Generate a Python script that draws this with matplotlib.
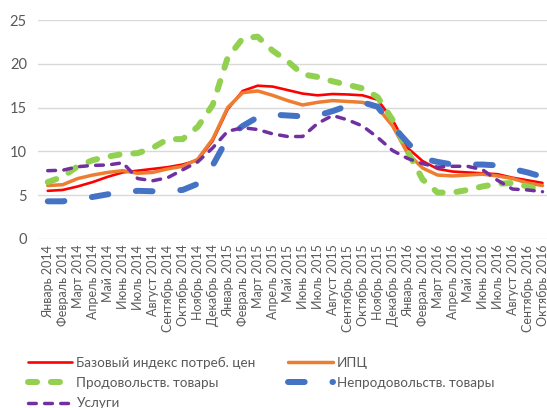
import matplotlib
matplotlib.use("Agg")
import matplotlib.pyplot as plt

months = ["Январь 2014", "Февраль 2014", "Март 2014", "Апрель 2014", "Май 2014", "Июнь 2014",
          "Июль 2014", "Август 2014", "Сентябрь 2014", "Октябрь 2014", "Ноябрь 2014", "Декабрь 2014",
          "Январь 2015", "Февраль 2015", "Март 2015", "Апрель 2015", "Май 2015", "Июнь 2015",
          "Июль 2015", "Август 2015", "Сентябрь 2015", "Октябрь 2015", "Ноябрь 2015", "Декабрь 2015",
          "Январь 2016", "Февраль 2016", "Март 2016", "Апрель 2016", "Май 2016", "Июнь 2016",
          "Июль 2016", "Август 2016", "Сентябрь 2016", "Октябрь 2016"]

base_cpi = [5.5, 5.6, 6.0, 6.5, 7.1, 7.6, 7.8, 8.0, 8.2, 8.5, 9.0, 11.2,
            14.8, 16.9, 17.5, 17.4, 17.0, 16.6, 16.4, 16.55, 16.5, 16.4, 15.9, 13.6,
            10.4, 8.9, 8.0, 7.7, 7.6, 7.5, 7.4, 7.0, 6.7, 6.4]
cpi = [6.1, 6.2, 6.9, 7.3, 7.6, 7.8, 7.5, 7.6, 8.0, 8.3, 9.1, 11.4,
       15.0, 16.7, 16.9, 16.4, 15.8, 15.3, 15.6, 15.8, 15.7, 15.6, 15.0, 12.9,
       9.8, 8.1, 7.3, 7.2, 7.3, 7.4, 7.2, 6.9, 6.4, 6.1]
food = [6.5, 7.1, 8.3, 9.0, 9.4, 9.7, 9.8, 10.4, 11.4, 11.4, 12.8, 15.3,
        20.7, 22.9, 23.1, 21.5, 20.3, 18.8, 18.5, 18.0, 17.6, 17.2, 16.2, 13.6,
        10.0, 6.8, 5.3, 5.3, 5.6, 6.0, 6.3, 6.4, 6.0, 5.6]
nonfood = [4.3, 4.3, 4.6, 4.8, 5.1, 5.3, 5.5, 5.45, 5.5, 5.6, 6.3, 8.4,
           11.5, 12.9, 13.9, 14.2, 14.1, 14.0, 14.1, 14.6, 15.2, 15.6, 15.1, 12.9,
           11.0, 9.2, 8.8, 8.5, 8.5, 8.5, 8.4, 8.0, 7.6, 7.1]
services = [7.8, 7.85, 8.25, 8.4, 8.45, 8.7, 6.9, 6.65, 7.0, 7.9, 8.8, 10.4,
            12.3, 12.7, 12.5, 12.0, 11.7, 11.7, 13.2, 14.1, 13.6, 12.9, 11.6, 10.1,
            9.2, 8.6, 8.2, 8.3, 8.3, 7.9, 6.7, 5.7, 5.6, 5.4]

labels = ["Базовый индекс потреб. цен", "ИПЦ", "Продовольств. товары",
          "Непродовольств. товары", "Услуги"]
y_ticks = [0, 5, 10, 15, 20, 25]

plt.rcParams['font.family'] = ['Lato', 'DejaVu Sans']
plt.rcParams['lines.scale_dashes'] = False

fig = plt.figure(figsize=(5.47, 4.08), dpi=100)
W, H = 547, 408
ax = fig.add_axes([38 / W, 1 - 239 / H, (W - 38) / W, (239 - 20) / H])

x = list(range(len(months)))
h_base, = ax.plot(x, base_cpi, color='#FF0000', lw=1.9, solid_capstyle='round', zorder=3)
h_cpi, = ax.plot(x, cpi, color='#ED7D31', lw=2.5, solid_capstyle='round', zorder=4)
h_food, = ax.plot(x, food, color='#92D050', lw=4.3, dashes=(6.5, 10), dash_capstyle='round', zorder=5)
h_nf, = ax.plot(x, nonfood, color='#4472C4', lw=4.3, dashes=(12, 20), dash_capstyle='round', zorder=6)
h_sv, = ax.plot(x, services, color='#7030A0', lw=2.5, dashes=(5.6, 6.0), dash_capstyle='round', zorder=7)

ax.set_ylim(0, 25)
ax.set_xlim(-0.65, 33.3)
ax.set_yticks(y_ticks)
ax.set_xticks(x)
ax.set_xticklabels(months, rotation=90, fontsize=9, color='#595959')
ax.tick_params(axis='y', labelsize=10.5, labelcolor='#595959', length=0, pad=8)
ax.tick_params(axis='x', length=0, pad=4)
ax.grid(axis='y', color='#D9D9D9', lw=1)
ax.set_axisbelow(True)
for s in ax.spines.values():
    s.set_visible(False)

handles = [h_base, h_food, h_sv, h_cpi, h_nf]
leg_labels = [labels[0], labels[2], labels[4], labels[1], labels[3]]
fig.legend(handles, leg_labels, loc='upper left', bbox_to_anchor=(28 / W, 1 - 357 / H),
           ncol=2, frameon=False, fontsize=9.7, labelcolor='#595959',
           handlelength=3.3, handletextpad=0.3, columnspacing=2.4,
           labelspacing=0.6, borderpad=0, borderaxespad=0)

fig.savefig('out.png', dpi=100)
